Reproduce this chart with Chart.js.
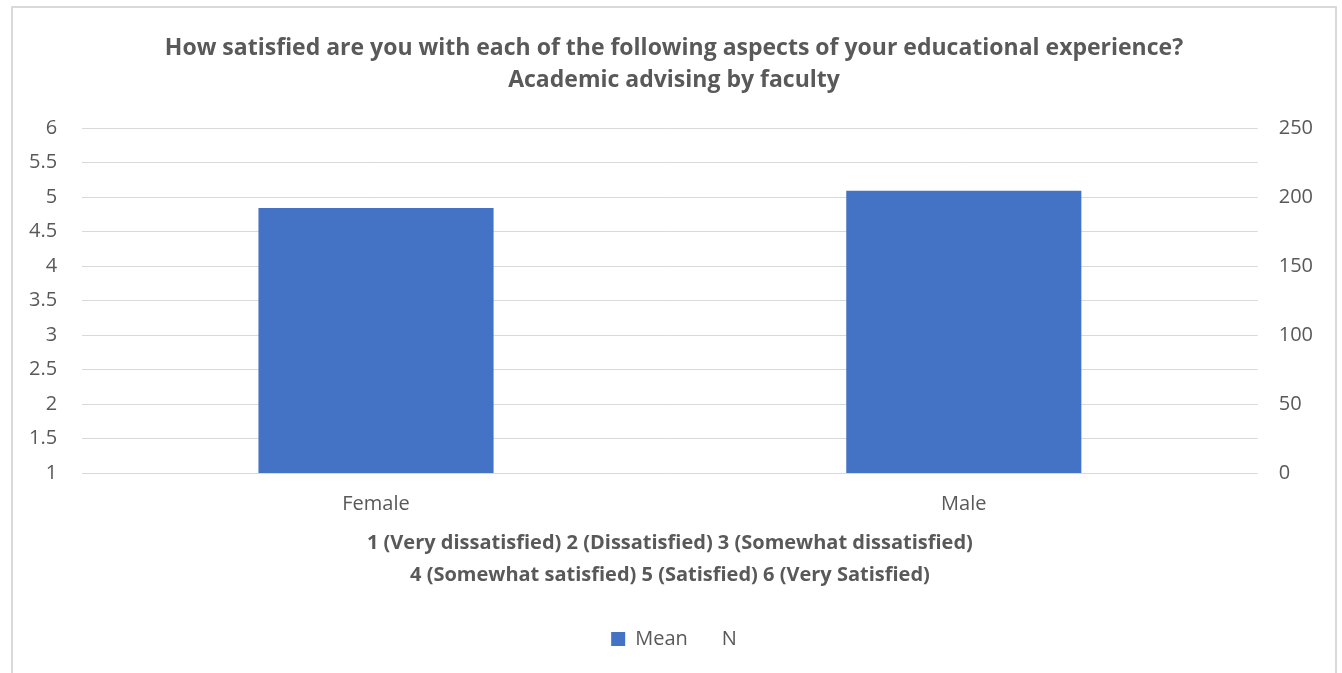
<!DOCTYPE html>
<html>
<head>
<meta charset="utf-8">
<script src="https://cdn.jsdelivr.net/npm/chart.js@4"></script>
<style>
  body { margin: 0; background: #fff; }
  #box {
    position: absolute; left: 11px; top: 6px;
    width: 1322px; height: 680px;
    border: 2px solid #d9d9d9; border-bottom: none;
  }
  canvas { display: block; }
</style>
</head>
<body>
<div id="box"><canvas id="chart" width="1322" height="665"></canvas></div>
<script>
// Chart data
const categories = ["Female", "Male"];
const meanValues = [4.84, 5.09];
const nValues = [null, null];
const titleLines = [
  "How satisfied are you with each of the following aspects of your educational experience?",
  "Academic advising by faculty"
];
const scaleLines = [
  "1 (Very dissatisfied) 2 (Dissatisfied) 3 (Somewhat dissatisfied)",
  "4 (Somewhat satisfied) 5 (Satisfied) 6 (Very Satisfied)"
];

const grey = "#595959";
const fontName = "'Open Sans', sans-serif";

var ctx = document.getElementById("chart").getContext("2d");
var chart = new Chart(ctx, {
  type: "bar",
  data: {
    labels: categories,
    datasets: [
      {
        label: "Mean",
        data: meanValues,
        yAxisID: "y",
        backgroundColor: "#4472c4",
        grouped: false,
        categoryPercentage: 1,
        barPercentage: 0.4,
      },
      {
        label: "N",
        data: nValues,
        yAxisID: "y1",
        backgroundColor: "rgba(0,0,0,0)",
        borderColor: "rgba(0,0,0,0)",
        borderWidth: 0,
        grouped: false,
      },
    ],
  },
  options: {
    responsive: false,
    animation: false,
    layout: { padding: { left: 0, right: 0, top: 0, bottom: 14 } },
    plugins: {
      title: {
        display: true,
        text: titleLines,
        color: grey,
        font: { family: fontName, size: 23, weight: "bold", lineHeight: 1.37 },
        padding: { top: 25, bottom: 32 },
      },
      legend: {
        position: "bottom",
        labels: {
          color: grey,
          font: { family: fontName, size: 20 },
          boxWidth: 14,
          boxHeight: 14,
          padding: 10,
        },
      },
      tooltip: { enabled: false },
    },
    scales: {
      x: {
        grid: { display: false },
        border: { display: false },
        ticks: { color: grey, font: { family: fontName, size: 20 }, padding: 11 },
        title: {
          display: true,
          text: scaleLines,
          color: grey,
          font: { family: fontName, size: 20, weight: "bold", lineHeight: 1.6 },
          padding: { top: 0, bottom: 28 },
        },
      },
      y: {
        position: "left",
        min: 1,
        max: 6,
        ticks: {
          stepSize: 0.5,
          color: grey,
          font: { family: fontName, size: 20 },
          padding: 25,
          callback: (v) => v,
        },
        grid: { color: "#d9d9d9", drawTicks: false },
        border: { display: false },
        afterFit: (s) => { s.width -= 9; },
      },
      y1: {
        position: "right",
        min: 0,
        max: 250,
        ticks: {
          stepSize: 50,
          color: grey,
          font: { family: fontName, size: 20 },
          padding: 13,
          callback: (v) => v,
        },
        grid: { display: false },
        border: { display: false },
        afterFit: (s) => { s.width += 9; },
      },
    },
  },
});
</script>
</body>
</html>
